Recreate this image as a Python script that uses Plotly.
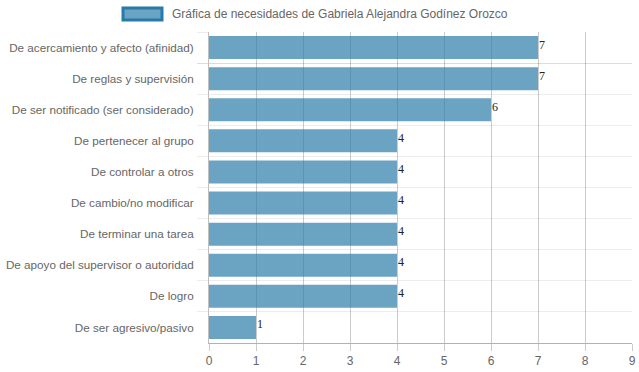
import plotly.graph_objects as go

categories = [
    "De acercamiento y afecto (afinidad)",
    "De reglas y supervisión",
    "De ser notificado (ser considerado)",
    "De pertenecer al grupo",
    "De controlar a otros",
    "De cambio/no modificar",
    "De terminar una tarea",
    "De apoyo del supervisor o autoridad",
    "De logro",
    "De ser agresivo/pasivo",
]
values = [7, 7, 6, 4, 4, 4, 4, 4, 4, 1]
x_ticks = [0, 1, 2, 3, 4, 5, 6, 7, 8, 9]
series_name = "Gráfica de necesidades de Gabriela Alejandra Godínez Orozco"

W, H = 639, 372
L, R, T, B = 209, 7, 32, 29
pw, ph = W - L - R, H - T - B

def px(x):
    return (x - L) / pw

def py(y):
    return (H - B - y) / ph

fig = go.Figure()
fig.add_trace(go.Bar(
    y=categories, x=values, orientation="h",
    width=0.74,
    marker=dict(color="rgba(40,122,168,0.69)", line=dict(width=0)),
    showlegend=False, hoverinfo="skip",
))

annotations = [dict(
    xref="x", yref="y", x=v, y=c, text=str(v), showarrow=False,
    xanchor="left", yanchor="middle", xshift=-1, yshift=3,
    font=dict(family="Liberation Serif, Times New Roman, serif", size=12, color="#222"),
) for c, v in zip(categories, values)]
annotations.append(dict(
    xref="paper", yref="paper", x=px(170), y=py(14),
    xanchor="left", yanchor="middle", showarrow=False,
    text=series_name, font=dict(size=12, color="#666"),
))

fig.update_layout(
    width=W, height=H,
    margin=dict(l=L, r=R, t=T, b=B, pad=0),
    paper_bgcolor="white", plot_bgcolor="white",
    font=dict(family="Liberation Sans, Arial, sans-serif", size=12, color="#666"),
    xaxis=dict(
        range=[0, 9], tickvals=x_ticks, ticktext=[str(t) for t in x_ticks],
        showgrid=True, gridcolor="rgba(0,0,0,0.2)", gridwidth=1,
        zeroline=False, showline=True, linecolor="rgba(0,0,0,0.3)", linewidth=1,
        ticks="outside", ticklen=7, tickcolor="rgba(0,0,0,0.2)",
        tickfont=dict(size=12, color="#666"), automargin=False,
    ),
    yaxis=dict(
        categoryorder="array", categoryarray=categories, autorange="reversed",
        tickson="boundaries", showgrid=True, gridcolor="rgba(0,0,0,0.07)",
        ticks="outside", ticklen=11, tickcolor="rgba(0,0,0,0.07)",
        ticklabelstandoff=12,
        showline=True, linecolor="rgba(0,0,0,0.25)", linewidth=1,
        zeroline=False, tickfont=dict(size=11.7, color="#666"), automargin=False,
    ),
    shapes=[dict(
        type="rect", xref="paper", yref="paper",
        x0=px(123), x1=px(162), y0=py(20), y1=py(8),
        fillcolor="rgba(40,122,168,0.69)", line=dict(color="rgb(40,122,168)", width=3),
    )],
    annotations=annotations,
)

fig.write_html(
    "out.html",
    config={"displayModeBar": False},
    post_script="document.body.style.margin='0';document.body.style.overflow='hidden';",
)
